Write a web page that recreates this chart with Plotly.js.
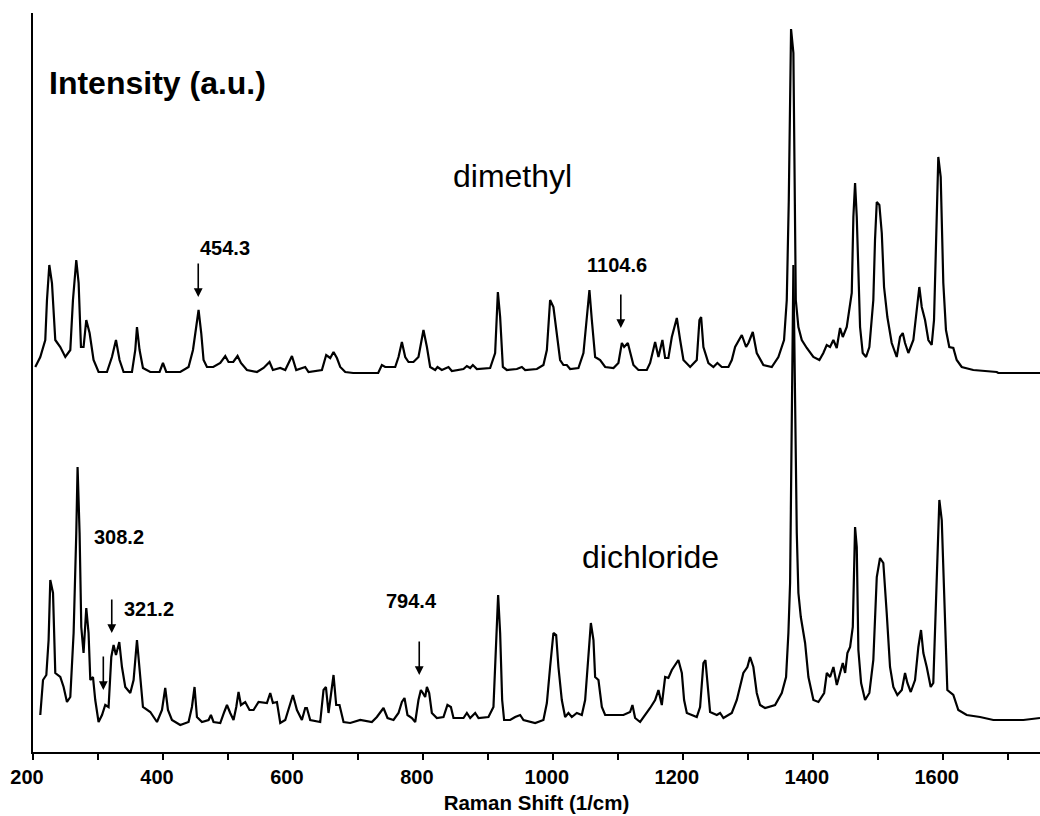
<!DOCTYPE html>
<html><head><meta charset="utf-8">
<script src="https://cdn.plot.ly/plotly-3.0.1.min.js"></script>
<style>html,body{margin:0;padding:0;background:#fff}#chart{width:1040px;height:816px}</style>
</head><body><div id="chart"></div>
<script>
// Raman shift (1/cm) and intensity (a.u., offset spectra as plotted)
const dimethylX = [203.5,211.2,218.9,221.5,225.1,229.2,234.3,242.0,249.7,257.4,
261.5,266.6,270.2,273.8,277.8,282.0,287.1,293.2,300.9,313.8,
321.5,327.7,333.2,339.4,352.3,357.4,360.0,364.0,369.2,380.5,
394.8,400.0,405.1,426.6,439.4,446.2,454.8,458.9,462.5,467.7,
477.4,488.2,495.9,500.9,508.2,514.8,520.0,529.2,544.6,554.8,
564.0,569.2,580.5,588.2,598.5,605.1,618.9,624.0,644.6,651.2,
657.4,662.5,667.7,672.8,680.5,692.8,731.2,736.9,742.0,757.4,
762.5,767.7,772.8,777.9,785.5,793.2,800.9,806.2,811.2,818.9,
822.5,829.2,839.4,844.6,862.5,867.7,872.8,876.9,883.1,903.5,
911.2,915.4,918.9,923.1,929.2,944.6,952.3,957.4,975.4,985.5,
990.8,995.8,1000.9,1006.2,1011.2,1016.3,1021.5,1026.6,1039.4,1047.1,
1052.3,1056.3,1060.0,1065.1,1072.8,1080.5,1093.3,1100.9,1106.2,1109.7,
1115.4,1118.9,1124.0,1131.7,1144.6,1149.7,1157.4,1162.5,1168.6,1172.8,
1177.8,1183.1,1190.8,1195.9,1201.0,1211.3,1221.5,1225.6,1228.2,1231.7,
1239.4,1247.1,1253.2,1260.0,1270.2,1275.4,1280.5,1290.8,1297.4,1301.0,
1307.7,1313.8,1324.0,1336.9,1347.1,1355.8,1360.0,1363.1,1365.1,1366.6,
1370.2,1371.7,1373.9,1377.9,1383.1,1390.8,1400.9,1410.2,1416.3,1421.5,
1426.6,1431.7,1436.9,1442.0,1446.2,1452.3,1456.4,1460.0,1462.5,1465.1,
1467.7,1470.2,1472.8,1476.9,1482.0,1487.1,1493.2,1495.8,1498.5,1502.5,
1506.2,1509.7,1514.8,1521.5,1529.2,1534.3,1538.5,1542.0,1547.1,1554.8,
1560.0,1564.0,1567.7,1572.8,1577.9,1583.0,1586.6,1589.7,1593.2,1596.9,
1600.9,1605.0,1610.1,1616.3,1621.5,1629.2,1647.0,1683.1,1685.5,1749.7];
const dimethylY = [385,395,412,452,487,469,412,405,395,402,
452,492,469,405,405,432,419,392,380,380,
395,412,392,380,380,402,425,402,384,380,
380,389,380,380,385,402,442,419,392,385,
385,389,396,390,390,396,389,382,380,384,
390,382,384,382,396,382,385,380,382,397,
394,400,394,385,380,379,379,387,385,385,
395,410,395,390,390,395,422,405,385,382,
385,382,385,381,383,386,384,387,383,384,
399,460,435,385,382,383,385,382,383,387,
402,452,445,419,392,387,387,383,384,399,
432,462,432,395,392,385,384,389,409,405,
409,400,387,382,382,389,410,395,412,394,
394,415,434,412,392,385,392,432,435,405,
389,385,389,385,385,392,405,417,405,409,
420,399,387,385,395,412,452,552,685,723,
699,585,452,425,412,404,395,392,399,407,
405,412,404,424,415,425,442,459,535,569,
535,469,425,399,395,405,452,512,550,547,
519,465,435,409,395,415,419,409,399,412,
445,465,445,432,412,407,432,519,595,575,
469,422,405,404,392,385,382,380,379,379];

const dichlorideX = [211.2,215.4,220.5,224.0,226.6,230.8,234.3,242.0,247.1,252.3,
257.4,262.5,266.6,268.6,271.7,274.3,277.8,282.0,285.5,288.2,
292.3,295.8,300.9,306.2,311.2,316.3,320.5,324.0,327.7,332.8,
336.9,342.0,349.7,354.8,360.0,364.0,369.2,380.5,390.8,398.5,
403.5,407.7,413.8,426.6,439.4,444.6,448.6,452.3,460.0,470.2,
473.8,477.8,488.2,494.3,498.5,503.5,508.6,512.8,516.3,520.0,
526.6,533.2,539.4,547.1,560.0,565.1,569.2,575.4,580.5,588.2,
594.8,600.0,606.2,613.8,618.9,621.5,626.6,642.0,647.1,650.8,
654.8,658.9,662.5,666.6,671.7,677.9,688.2,703.6,721.5,729.2,
739.4,745.6,754.8,762.5,767.7,771.7,776.3,783.1,788.2,793.2,
796.9,800.0,803.5,806.2,809.7,813.8,821.5,831.7,837.8,843.1,
847.1,862.5,867.7,872.8,880.5,885.6,900.9,908.6,912.7,915.8,
918.9,922.0,925.0,934.3,942.0,949.7,954.8,965.1,972.8,985.5,
990.8,995.8,1000.9,1005.1,1008.6,1013.8,1018.9,1024.0,1029.2,1036.9,
1044.6,1049.7,1054.8,1058.5,1062.5,1065.1,1070.2,1075.4,1080.5,1108.6,
1118.9,1122.5,1126.6,1134.3,1149.7,1157.4,1162.5,1167.7,1172.8,1177.8,
1183.1,1190.8,1193.2,1198.5,1202.0,1206.2,1221.5,1226.6,1231.7,1234.8,
1238.5,1242.0,1252.3,1257.4,1262.5,1275.4,1283.1,1293.2,1299.4,1303.5,
1308.6,1313.8,1318.9,1326.6,1342.0,1352.3,1358.9,1362.5,1365.1,1367.7,
1370.2,1372.8,1375.4,1377.9,1381.6,1388.2,1393.3,1401.0,1408.7,1417.5,
1421.6,1426.7,1431.8,1437.0,1442.1,1446.2,1449.8,1453.3,1457.5,1461.6,
1465.1,1467.7,1470.2,1474.4,1480.5,1487.1,1493.2,1498.5,1503.5,1508.6,
1513.8,1518.9,1524.0,1530.2,1537.0,1542.0,1545.6,1550.8,1557.4,1562.5,
1566.6,1570.2,1575.4,1581.5,1585.5,1589.7,1594.8,1598.5,1603.5,1607.1,
1616.3,1624.0,1636.9,1657.4,1677.9,1724.1,1749.7];
const dichlorideY = [37,72,77,112,172,159,79,75,65,50,
55,119,219,285,219,125,99,144,119,72,
75,52,30,37,47,45,95,107,97,110,
85,65,59,72,112,85,45,40,30,42,
64,42,32,27,30,45,65,35,30,32,
37,30,29,40,47,39,32,45,60,47,
50,42,42,50,49,59,49,50,29,32,
45,57,42,32,44,44,32,30,62,65,
39,62,77,47,47,30,29,32,30,35,
44,34,32,39,50,54,37,34,30,52,
62,59,55,65,59,39,34,35,47,45,
34,34,39,34,39,34,35,45,102,157,
119,52,32,32,35,37,32,30,29,32,
49,85,119,117,85,52,35,39,35,39,
37,52,102,129,112,75,72,45,37,37,
40,47,34,30,44,52,62,47,75,74,
82,90,92,79,52,39,35,45,89,92,
65,40,37,39,34,39,52,79,85,95,
85,59,47,44,47,59,75,119,169,352,
487,352,219,159,135,109,75,52,50,59,
79,75,85,67,79,89,79,99,105,125,
225,205,102,69,52,59,92,175,194,189,
139,85,65,57,62,79,69,60,72,105,
122,99,85,65,69,152,252,232,119,62,
57,42,37,35,32,32,34];

// Marked bands (labels) and where their arrows end on the spectra
const bandLabels = ['454.3', '1104.6', '321.2', '308.2', '794.4'];
const bandArrowTipY = [455, 424, 119, 62, 77];
const bandLabelPos = [[495.9, 504], [1098.9, 487], [378.9, 143], [332.8, 215], [782.0, 151]];
const seriesNames = ['dimethyl', 'dichloride'];

const FONT = '"Liberation Sans", Arial, Helvetica, sans-serif';

const traces = [
  {x: dimethylX, y: dimethylY, type: 'scatter', mode: 'lines', name: seriesNames[0],
   line: {color: '#000', width: 2.2}, hoverinfo: 'skip'},
  {x: dichlorideX, y: dichlorideY, type: 'scatter', mode: 'lines', name: seriesNames[1],
   line: {color: '#000', width: 2.2}, hoverinfo: 'skip'}
];

const annotations = [];
annotations.push({x: 222, y: 669, xref: 'x', yref: 'y', text: 'Intensity (a.u.)', showarrow: false,
  xanchor: 'left', yanchor: 'middle', font: {family: FONT, size: 32, color: '#000', weight: 700}});
annotations.push({x: 937.4, y: 576, xref: 'x', yref: 'y', text: seriesNames[0], showarrow: false,
  xanchor: 'center', yanchor: 'middle', font: {family: FONT, size: 32, color: '#000'}});
annotations.push({x: 1149.7, y: 195, xref: 'x', yref: 'y', text: seriesNames[1], showarrow: false,
  xanchor: 'center', yanchor: 'middle', font: {family: FONT, size: 32, color: '#000'}});
bandLabels.forEach((lab, i) => {
  annotations.push({x: parseFloat(lab), y: bandArrowTipY[i], xref: 'x', yref: 'y', text: '',
    showarrow: true, ax: 0, ay: -35, arrowhead: 2, arrowsize: 1.1, arrowwidth: 1.6,
    arrowcolor: '#000', standoff: 0, startstandoff: 0});
  annotations.push({x: bandLabelPos[i][0], y: bandLabelPos[i][1], xref: 'x', yref: 'y', text: lab,
    showarrow: false, xanchor: 'center', yanchor: 'middle',
    font: {family: FONT, size: 20, color: '#000', weight: 700}});
});

const layout = {
  width: 1040, height: 816,
  margin: {l: 33, r: 0, t: 13, b: 64, pad: 0},
  paper_bgcolor: '#fff', plot_bgcolor: '#fff', showlegend: false,
  xaxis: {range: [200, 1749.7], showgrid: false, zeroline: false,
    showline: true, linecolor: '#000', linewidth: 2,
    ticks: 'outside', ticklen: 6, tickwidth: 2, tickcolor: '#000',
    tick0: 200, dtick: 200, ticklabelshift: -6,
    tickfont: {family: FONT, size: 20, color: '#000', weight: 700},
    minor: {dtick: 100, ticks: 'outside', ticklen: 6, tickwidth: 2, tickcolor: '#000', showgrid: false},
    title: {text: 'Raman Shift (1/cm)', standoff: 9,
      font: {family: FONT, size: 20.5, color: '#000', weight: 700}}},
  yaxis: {range: [0, 739], showgrid: false, zeroline: false,
    showline: true, linecolor: '#000', linewidth: 2,
    ticks: '', showticklabels: false},
  annotations: annotations
};

Plotly.newPlot('chart', traces, layout, {displayModeBar: false, staticPlot: true});
</script>
</body></html>
